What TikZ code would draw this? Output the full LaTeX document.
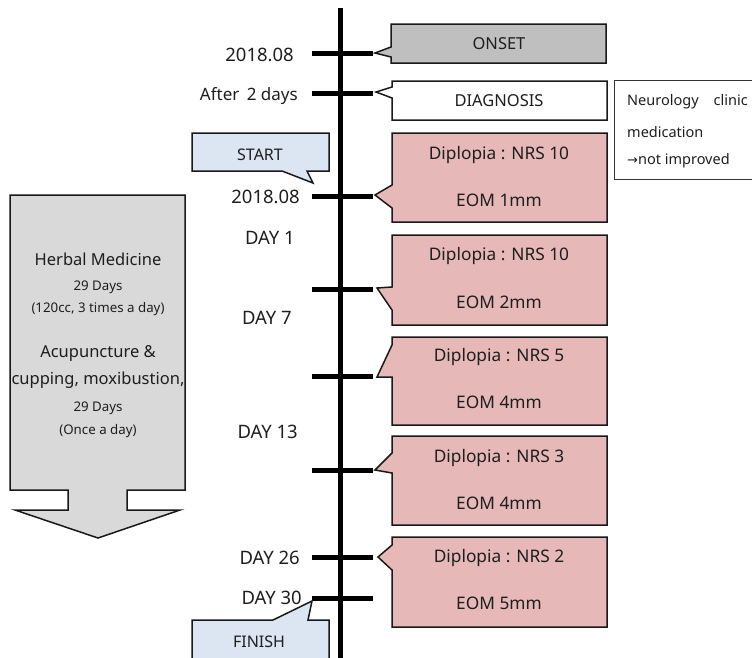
\documentclass[tikz,border=0pt]{standalone}
\usepackage{fontspec}
\setmainfont{Noto Sans}
\newfontfamily\symfont{DejaVu Sans}
\definecolor{pinkfill}{HTML}{E6B9B8}
\definecolor{bluefill}{HTML}{DCE6F2}
\definecolor{onsetfill}{HTML}{BFBFBF}
\definecolor{arrowfill}{HTML}{D9D9D9}
\definecolor{txt}{HTML}{1E1E1E}
\begin{document}
\begin{tikzpicture}[x=1pt,y=-1pt,
  bx/.style={draw=black!90, line width=1.5pt, line join=miter},
  tl/.style={line width=5pt, black},
  lbl/.style={font=\fontsize{18.5}{20}\selectfont, inner sep=0pt, anchor=east, text=txt},
  btxt/.style={font=\fontsize{16.5}{18}\selectfont, inner sep=0pt, text=txt},
  ptxt/.style={font=\fontsize{17.3}{19}\selectfont, inner sep=0pt, text=txt},
  stxt/.style={font=\fontsize{13.3}{15}\selectfont, inner sep=0pt, text=txt},
  ntxt/.style={font=\fontsize{14.5}{16}\selectfont, inner sep=0pt, anchor=west, text=txt}]
\useasboundingbox (0,0) rectangle (752,657);
\clip (0,0) rectangle (752,657);

% main time line
\coordinate (top) at (340,8);
\coordinate (bot) at (340,662);
\draw[tl] (top) -- (bot);

% ticks
\foreach \i/\y in {1/53,2/93,3/196,4/289,5/376,6/470,7/557,8/598}{
  \coordinate (tl\i) at (312,\y);
  \coordinate (tr\i) at (373,\y);
  \draw[tl] (tl\i) -- (tr\i);
}

% time labels
\node[lbl] (l1) at (294,55) {2018.08};
\node[lbl, font=\fontsize{17}{19}\selectfont] (l2) at (298,96) {After\hspace{3pt} 2 days};
\node[lbl] (l3) at (300,197) {2018.08};
\node[lbl] (d1) at (295,238) {DAY 1};
\node[lbl] (d7) at (292,318) {DAY 7};
\node[lbl] (d13) at (298,432) {DAY 13};
\node[lbl] (d26) at (300,558) {DAY 26};
\node[lbl] (d30) at (302,598) {DAY 30};

% right callouts
\draw[bx, fill=onsetfill] (391,24) -- (606,24) -- (606,63) -- (391,63) -- (391,57) -- (375,53) -- (391,47) -- cycle;
\node[btxt] (onset) at (499,44) {ONSET};

\draw[bx, fill=white] (392,81) -- (607,81) -- (607,120) -- (392,120) -- (392,98) -- (376,92) -- (392,87) -- cycle;
\node[btxt] (diag) at (499,101) {DIAGNOSIS};

\draw[draw=black!80, line width=1pt] (760,80) -- (614,80) -- (614,179) -- (760,179);
\node[ntxt] (n1) at (627,102) {Neurology\hspace{15pt}clinic};
\node[ntxt] (n2) at (627,132) {medication};
\node[ntxt] (n3) at (627,161) {{\symfont\fontsize{13}{16}\selectfont →}not improved};

\draw[bx, fill=pinkfill] (392,133) -- (607,133) -- (607,222) -- (392,222) -- (392,208) -- (375,195) -- (392,185) -- cycle;
\node[ptxt] (p1a) at (499,155) {Diplopia : NRS 10};
\node[ptxt] (p1b) at (499,200) {EOM 1mm};

\draw[bx, fill=pinkfill] (392,235) -- (607,235) -- (607,325) -- (392,325) -- (392,310) -- (377,288) -- (392,287) -- cycle;
\node[ptxt] (p2a) at (499,256) {Diplopia : NRS 10};
\node[ptxt] (p2b) at (499,302) {EOM 2mm};

\draw[bx, fill=pinkfill] (392,337) -- (607,337) -- (607,425) -- (392,425) -- (392,377) -- (377,377) -- (392,345) -- cycle;
\node[ptxt] (p3a) at (499,357) {Diplopia : NRS 5};
\node[ptxt] (p3b) at (499,402) {EOM 4mm};

\draw[bx, fill=pinkfill] (392,436) -- (607,436) -- (607,525) -- (392,525) -- (392,473) -- (375,470) -- (392,453) -- cycle;
\node[ptxt] (p4a) at (499,458) {Diplopia : NRS 3};
\node[ptxt] (p4b) at (499,503) {EOM 4mm};

\draw[bx, fill=pinkfill] (392,537) -- (607,537) -- (607,627) -- (392,627) -- (392,570) -- (378,557) -- (392,545) -- cycle;
\node[ptxt] (p5a) at (499,558) {Diplopia : NRS 2};
\node[ptxt] (p5b) at (499,603) {EOM 5mm};

% start / finish callouts
\draw[bx, fill=bluefill] (192,133) -- (329,133) -- (329,171) -- (307,171) -- (313,183) -- (282,171) -- (192,171) -- cycle;
\node[btxt, font=\fontsize{16}{18}\selectfont] (start) at (260,155) {START};

\draw[bx, fill=bluefill] (192,620) -- (273,620) -- (312,601) -- (308,620) -- (329,620) -- (329,668) -- (192,668) -- cycle;
\node[btxt, font=\fontsize{16}{18}\selectfont] (finish) at (259,642) {FINISH};

% treatment arrow
\draw[bx, fill=arrowfill] (10,195) -- (185,195) -- (185,490) -- (127,490) -- (127,510) -- (180,510) -- (98,538) -- (15,510) -- (68,510) -- (68,490) -- (10,490) -- cycle;
\node[btxt] (a1) at (98,259) {Herbal Medicine};
\node[stxt] (a2) at (98,287) {29 Days};
\node[stxt] (a3) at (98,309) {(120cc, 3 times a day)};
\node[btxt] (a4) at (98,353) {Acupuncture \&};
\node[btxt] (a5) at (98,380) {cupping, moxibustion,};
\node[stxt] (a6) at (98,408) {29 Days};
\node[stxt] (a7) at (98,431) {(Once a day)};
\end{tikzpicture}
\end{document}
